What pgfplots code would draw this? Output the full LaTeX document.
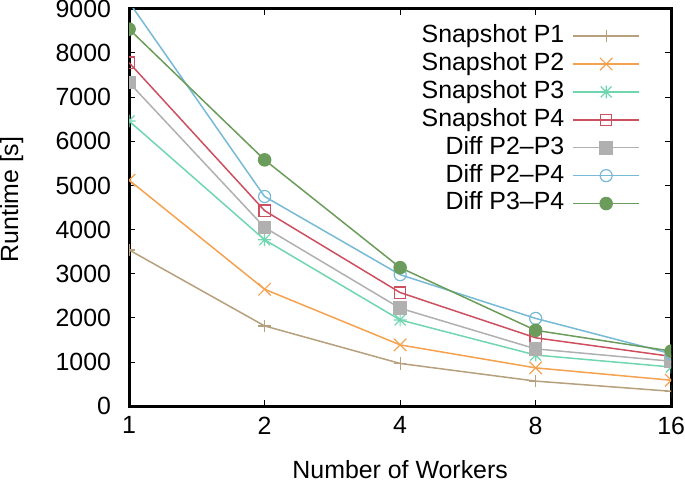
\documentclass[border=0pt]{standalone}
\usepackage{fontspec}
\setmainfont{Liberation Sans}
\usepackage{pgfplots}
\pgfplotsset{compat=1.18}
\definecolor{cP1}{RGB}{183,160,125}
\definecolor{cP2}{RGB}{244,162,80}
\definecolor{cP3}{RGB}{112,214,176}
\definecolor{cP4}{RGB}{204,80,95}
\definecolor{cD23}{RGB}{176,176,176}
\definecolor{cD24}{RGB}{118,186,214}
\definecolor{cD34}{RGB}{108,156,92}
\pgfdeclareplotmark{gx}{%
 \pgfpathmoveto{\pgfqpoint{\pgfplotmarksize}{\pgfplotmarksize}}\pgfpathlineto{\pgfqpoint{-\pgfplotmarksize}{-\pgfplotmarksize}}%
 \pgfpathmoveto{\pgfqpoint{\pgfplotmarksize}{-\pgfplotmarksize}}\pgfpathlineto{\pgfqpoint{-\pgfplotmarksize}{\pgfplotmarksize}}%
 \pgfusepathqstroke}
\pgfdeclareplotmark{gplusx}{%
 \pgfpathmoveto{\pgfqpoint{0pt}{\pgfplotmarksize}}\pgfpathlineto{\pgfqpoint{0pt}{-\pgfplotmarksize}}%
 \pgfpathmoveto{\pgfqpoint{\pgfplotmarksize}{0pt}}\pgfpathlineto{\pgfqpoint{-\pgfplotmarksize}{0pt}}%
 \pgfpathmoveto{\pgfqpoint{0.85\pgfplotmarksize}{0.85\pgfplotmarksize}}\pgfpathlineto{\pgfqpoint{-0.85\pgfplotmarksize}{-0.85\pgfplotmarksize}}%
 \pgfpathmoveto{\pgfqpoint{0.85\pgfplotmarksize}{-0.85\pgfplotmarksize}}\pgfpathlineto{\pgfqpoint{-0.85\pgfplotmarksize}{0.85\pgfplotmarksize}}%
 \pgfusepathqstroke}
\begin{document}
\begin{tikzpicture}
\begin{axis}[
  scale only axis,
  width=270pt, height=198pt,
  xmode=log, log basis x=2,
  xmin=1, xmax=16,
  ymin=0, ymax=9000,
  xtick={1,2,4,8,16}, xticklabels={1,2,4,8,16},
  minor xtick={},
  ytick={0,1000,...,9000},
  /pgf/number format/1000 sep={},
  /pgf/number format/assume math mode=true,
  tick align=inside,
  major tick length=3pt,
  axis line style={line width=1.5pt},
  every tick/.style={black, line width=0.5pt},
  font=\fontsize{12.4}{14.9}\selectfont,
  tick label style={font=\fontsize{12.4}{14.9}\selectfont, inner sep=0pt},
  xticklabel style={yshift=-5pt},
  yticklabel style={xshift=-8.8pt},
  xlabel={Number of Workers},
  ylabel={Runtime [s]},
  every axis x label/.style={at={(axis description cs:0.5,-0.13)}, anchor=north, inner ysep=1pt, inner xsep=0pt},
  every axis y label/.style={at={(axis description cs:-0.2389,0.52)}, anchor=north, rotate=90, inner sep=0pt},
  clip marker paths=true,
  legend cell align=right,
  legend plot pos=right,
  legend style={draw=none, fill=none, at={(1,1)}, anchor=north east,
    xshift=-15.5pt, yshift=-7.8pt, row sep=2.3pt, column sep=4pt,
    inner sep=0pt, outer sep=0pt,
    nodes={inner sep=0pt, text height=9pt, text depth=2.6pt},
    font=\fontsize{12.4}{14.9}\selectfont},
  legend image code/.code={%
    \draw[#1,mark=none] (0pt,0pt) -- (33pt,0pt);
    \draw[#1] plot coordinates {(16.5pt,0pt)};},
  every axis plot/.append style={line width=0.75pt, mark options={line width=0.6pt, solid}},
]
\addplot[color=cP1, mark=+, mark size=3.1pt] coordinates {(1,3540) (2,1820) (4,970) (8,570) (16,340)};
\addlegendentry{Snapshot P1}
\addplot[color=cP2, mark=gx, mark size=3.1pt] coordinates {(1,5120) (2,2650) (4,1390) (8,870) (16,590)};
\addlegendentry{Snapshot P2}
\addplot[color=cP3, mark=gplusx, mark size=3.2pt] coordinates {(1,6460) (2,3770) (4,1955) (8,1160) (16,890)};
\addlegendentry{Snapshot P3}
\addplot[color=cP4, mark=square, mark size=2.8pt] coordinates {(1,7780) (2,4430) (4,2575) (8,1550) (16,1130)};
\addlegendentry{Snapshot P4}
\addplot[color=cD23, mark=square*, mark size=3pt, mark options={fill=cD23}] coordinates {(1,7330) (2,4050) (4,2220) (8,1300) (16,1020)};
\addlegendentry{Diff P2--P3}
\addplot[color=cD24, mark=o, mark size=3pt] coordinates {(1,9150) (2,4750) (4,2980) (8,1990) (16,1190)};
\addlegendentry{Diff P2--P4}
\addplot[color=cD34, mark=*, mark size=3pt, mark options={fill=cD34}] coordinates {(1,8540) (2,5580) (4,3140) (8,1720) (16,1250)};
\addlegendentry{Diff P3--P4}
\end{axis}
\end{tikzpicture}
\end{document}
